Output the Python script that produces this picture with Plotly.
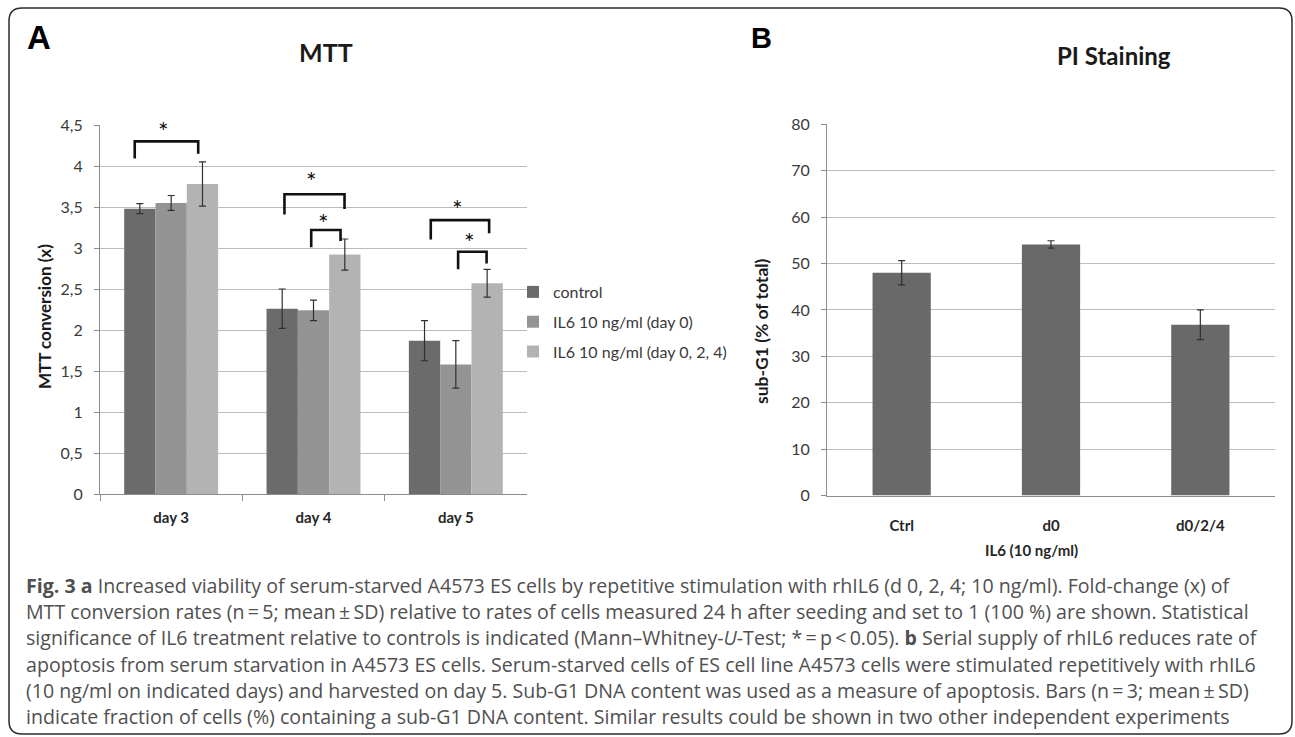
import plotly.graph_objects as go

# ---------------- data ----------------
days = ["day 3", "day 4", "day 5"]
series_names = ["control", "IL6 10 ng/ml (day 0)", "IL6 10 ng/ml (day 0, 2, 4)"]
mtt_control = [3.48, 2.26, 1.87]
mtt_control_sd = [0.06, 0.24, 0.245]
mtt_d0 = [3.55, 2.24, 1.58]
mtt_d0_sd = [0.09, 0.125, 0.29]
mtt_d024 = [3.78, 2.92, 2.57]
mtt_d024_sd = [0.27, 0.19, 0.17]

pi_groups = ["Ctrl", "d0", "d0/2/4"]
pi_values = [48.0, 54.1, 36.8]
pi_sd = [2.6, 0.8, 3.2]

mtt_ticks = [0, 0.5, 1, 1.5, 2, 2.5, 3, 3.5, 4, 4.5]
pi_ticks = [0, 10, 20, 30, 40, 50, 60, 70, 80]

# significance brackets: (category index, left offset, right offset, top, left leg end, right leg end, star y)
brackets = [
    (0, -0.256, 0.19, 4.30, 4.09, 4.15, 4.43),
    (1, -0.204, 0.218, 3.655, 3.41, 3.475, 3.82),
    (1, -0.016, 0.19, 3.22, 3.01, 3.085, 3.31),
    (2, -0.176, 0.234, 3.34, 3.105, 3.18, 3.47),
    (2, 0.016, 0.216, 2.955, 2.74, 2.81, 3.07),
]

caption_lines = [
    "<b>Fig. 3 a</b> Increased viability of serum-starved A4573 ES cells by repetitive stimulation with rhIL6 (d 0, 2, 4; 10 ng/ml). Fold-change (x) of",
    "MTT conversion rates (n\u2009=\u20095; mean\u2009\u00b1\u2009SD) relative to rates of cells measured 24 h after seeding and set to 1 (100 %) are shown. Statistical",
    "significance of IL6 treatment relative to controls is indicated (Mann\u2013Whitney-<i>U</i>-Test; *\u2009=\u2009p\u2009&lt;\u20090.05). <b>b</b> Serial supply of rhIL6 reduces rate of",
    "apoptosis from serum starvation in A4573 ES cells. Serum-starved cells of ES cell line A4573 cells were stimulated repetitively with rhIL6",
    "(10 ng/ml on indicated days) and harvested on day 5. Sub-G1 DNA content was used as a measure of apoptosis. Bars (n\u2009=\u20093; mean\u2009\u00b1\u2009SD)",
    "indicate fraction of cells (%) containing a sub-G1 DNA content. Similar results could be shown in two other independent experiments",
]

# ---------------- layout helpers ----------------
W, H = 1295, 737
def px(x):
    return x / W
def py(y):
    return 1 - y / H

CHART_FONT = "Lato, 'Open Sans', sans-serif"
CAP_FONT = "'Open Sans', 'Noto Sans', sans-serif"
colors = ["#6b6b6b", "#949494", "#b3b3b3"]

fig = go.Figure()

mtt_vals = [mtt_control, mtt_d0, mtt_d024]
mtt_sds = [mtt_control_sd, mtt_d0_sd, mtt_d024_sd]
for name, vals, sds, c in zip(series_names, mtt_vals, mtt_sds, colors):
    fig.add_trace(go.Bar(
        x=days, y=vals, name=name, marker=dict(color=c, line=dict(width=0)),
        error_y=dict(type="data", array=sds, color="#303030", thickness=1.2, width=3.5),
        xaxis="x", yaxis="y", legendgroup=name,
    ))

fig.add_trace(go.Bar(
    x=pi_groups, y=pi_values, width=0.39, showlegend=False,
    marker=dict(color="#696969", line=dict(width=0)),
    error_y=dict(type="data", array=pi_sd, color="#303030", thickness=1.2, width=3.5),
    xaxis="x2", yaxis="y2",
))

axis_line = "#8c8c8c"
grid = "#bcbcbc"
tickfont = dict(family=CHART_FONT, size=16, color="#3a3a3a")
xtickfont = dict(family=CHART_FONT, size=15, color="#262626", weight="bold")

fig.update_layout(
    width=W, height=H, autosize=False,
    margin=dict(l=0, r=0, t=0, b=0, pad=0, autoexpand=False),
    paper_bgcolor="white", plot_bgcolor="white",
    separators=",.",
    barmode="group", bargap=0.34, bargroupgap=0,
    xaxis=dict(domain=[px(100), px(527)], anchor="y", type="category", automargin=False,
               showline=True, linecolor=axis_line, linewidth=1,
               ticks="outside", tickson="boundaries", ticklen=6, tickcolor=axis_line,
               tickfont=xtickfont, ticklabelstandoff=10, showgrid=False),
    yaxis=dict(domain=[py(494), py(125)], anchor="x", range=[0, 4.5], automargin=False,
               tickvals=mtt_ticks, showgrid=True, gridcolor=grid, gridwidth=1,
               zeroline=False, showline=True, linecolor=axis_line, linewidth=1,
               ticks="outside", ticklen=5, tickcolor=axis_line,
               tickfont=tickfont, ticklabelstandoff=8),
    xaxis2=dict(domain=[px(827), px(1275)], anchor="y2", type="category", automargin=False,
                showline=True, linecolor=axis_line, linewidth=1, ticks="",
                tickfont=xtickfont, ticklabelstandoff=16, showgrid=False),
    yaxis2=dict(domain=[py(495.5), py(124.3)], anchor="x2", range=[0, 80], automargin=False,
                tickvals=pi_ticks, showgrid=True, gridcolor=grid, gridwidth=1,
                zeroline=False, showline=True, linecolor=axis_line, linewidth=1,
                ticks="outside", ticklen=5, tickcolor=axis_line,
                tickfont=tickfont, ticklabelstandoff=8),
    legend=dict(x=px(513), y=py(275), xanchor="left", yanchor="top",
                font=dict(family=CHART_FONT, size=16, color="#3a3a3a"),
                itemwidth=30, tracegroupgap=6, bgcolor="rgba(0,0,0,0)"),
    showlegend=True,
)

shapes = []
annotations = []

# rounded border around whole figure
x0, x1, y0, y1, r = 9, 1292, 8, 734, 13
path = (f"M {px(x0+r)},{py(y0)} L {px(x1-r)},{py(y0)} Q {px(x1)},{py(y0)} {px(x1)},{py(y0+r)} "
        f"L {px(x1)},{py(y1-r)} Q {px(x1)},{py(y1)} {px(x1-r)},{py(y1)} "
        f"L {px(x0+r)},{py(y1)} Q {px(x0)},{py(y1)} {px(x0)},{py(y1-r)} "
        f"L {px(x0)},{py(y0+r)} Q {px(x0)},{py(y0)} {px(x0+r)},{py(y0)} Z")
shapes.append(dict(type="path", xref="paper", yref="paper", path=path,
                   line=dict(color="#2b2b2b", width=1.5)))

# significance brackets
for cat, a, b, top, yl, yr, ys in brackets:
    xa, xb = cat + a, cat + b
    shapes.append(dict(type="path", xref="x", yref="y",
                       path=f"M {xa},{yl} L {xa},{top} L {xb},{top} L {xb},{yr}",
                       line=dict(color="#111111", width=2.6)))
    annotations.append(dict(x=(xa + xb) / 2 - 0.02, y=ys, xref="x", yref="y", text="*",
                            showarrow=False, font=dict(family=CHART_FONT, size=25, color="#111111"),
                            xanchor="center", yanchor="middle"))

def ann(x, y, text, size, bold=True, color="#111111", family=CHART_FONT, angle=0,
        xanchor="center", yanchor="middle"):
    annotations.append(dict(x=px(x), y=py(y), xref="paper", yref="paper", text=text,
                            showarrow=False, textangle=angle, xanchor=xanchor, yanchor=yanchor,
                            font=dict(family=family, size=size, color=color,
                                      weight="bold" if bold else "normal")))

ann(39, 38, "A", 33, family="'Liberation Sans', Arial, sans-serif", color="#000000")
ann(761, 38, "B", 29, family="'Liberation Sans', Arial, sans-serif", color="#000000")
ann(326, 52, "MTT", 25, color="#1a1a1a")
ann(1114, 56, "PI Staining", 24, color="#1a1a1a")
ann(45, 317, "MTT conversion (x)", 17, angle=-90, color="#1a1a1a")
ann(761, 331, "sub-G1 (% of total)", 17.5, angle=-90, color="#1a1a1a")
ann(1031, 550, "IL6 (10 ng/ml)", 15, color="#262626")

# caption lines
CAP_L, CAP_SIZE = 24, 19.6
cap_y = [585, 611, 637, 664, 690, 716]
for yy, line in zip(cap_y, caption_lines):
    ann(CAP_L, yy, line, CAP_SIZE, bold=False, color="#505050", family=CAP_FONT, xanchor="left")

fig.update_layout(shapes=shapes, annotations=annotations)

post = ("document.body.style.margin='0';document.body.style.padding='0';"
        "document.body.style.overflow='hidden';"
        "var gd=document.getElementById('{plot_id}');"
        "gd.style.position='absolute';gd.style.left='0px';gd.style.top='0px';")
fig.write_html("out.html", post_script=post, config={"displayModeBar": False})
